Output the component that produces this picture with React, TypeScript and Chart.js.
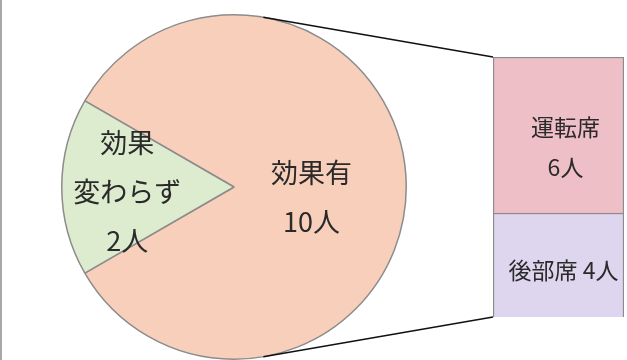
import React, { useEffect, useRef } from "react";
import { Chart, registerables } from "chart.js";

Chart.register(...registerables);

// ---- data ----
const pieCategories = ["効果有", "効果変わらず"];
const pieValues = [10, 2];
const pieLabelLines = [["効果有"], ["効果", "変わらず"]];
const barCategories = ["後部席", "運転席"];
const barValues = [4, 6];
const unit = "人";

// ---- styles ----
const W = 627;
const H = 360;
const pieColors = ["#F8CFBA", "#DDEBCE"];
const barColors = ["#DDD6EE", "#EFBFC8"];
const edgeColor = "#8C8C8C";
const textColor = "#2a2a2a";
const FONT = '"Noto Sans CJK JP", "Noto Sans", sans-serif';
const BAR_BOX = { left: 491, top: 55, width: 135, height: 264, pad: 2 };

const pieLabelPlugin = {
  id: "pieLabels",
  afterDatasetsDraw(chart: any) {
    const ctx = chart.ctx;
    const meta = chart.getDatasetMeta(0);
    const frac = [0.45, 0.62];
    const dy = [10, 5];
    ctx.save();
    ctx.fillStyle = textColor;
    ctx.font = `27px ${FONT}`;
    ctx.textAlign = "center";
    ctx.textBaseline = "middle";
    meta.data.forEach((el: any, i: number) => {
      const p = el.getProps(["x", "y", "startAngle", "endAngle", "outerRadius"], true);
      const mid = (p.startAngle + p.endAngle) / 2;
      const cx = p.x + Math.cos(mid) * p.outerRadius * frac[i];
      const cy = p.y + Math.sin(mid) * p.outerRadius * frac[i] + dy[i];
      const lines = [...pieLabelLines[i], `${pieValues[i]}${unit}`];
      const lh = 49;
      const y0 = cy - ((lines.length - 1) * lh) / 2;
      lines.forEach((t, k) => ctx.fillText(t, cx, y0 + k * lh));
    });
    // connector lines: tangent from bar corners to the circle
    const el = meta.data[0].getProps(["x", "y", "outerRadius"], true);
    const C = { x: el.x, y: el.y };
    const r = el.outerRadius;
    const bx = BAR_BOX.left + BAR_BOX.pad;
    const corners = [
      { x: bx, y: BAR_BOX.top + BAR_BOX.pad, sign: -1 },
      { x: bx, y: BAR_BOX.top + BAR_BOX.height - BAR_BOX.pad, sign: 1 },
    ];
    ctx.strokeStyle = "#111";
    ctx.lineWidth = 1.6;
    corners.forEach((P) => {
      const dx = P.x - C.x;
      const dyy = P.y - C.y;
      const d = Math.hypot(dx, dyy);
      const th = Math.atan2(dyy, dx);
      const a = Math.acos(r / d);
      const ang = th + P.sign * a;
      const tx = C.x + r * Math.cos(ang);
      const ty = C.y + r * Math.sin(ang);
      ctx.beginPath();
      ctx.moveTo(tx, ty);
      ctx.lineTo(P.x, P.y);
      ctx.stroke();
    });
    ctx.restore();
  },
};

const barLabelPlugin = {
  id: "barLabels",
  afterDatasetsDraw(chart: any) {
    const ctx = chart.ctx;
    ctx.save();
    ctx.fillStyle = textColor;
    ctx.font = `23px ${FONT}`;
    ctx.textAlign = "center";
    ctx.textBaseline = "middle";
    const offsets = [
      { dx: 5, dy: 5 },
      { dx: 7, dy: 12 },
    ];
    chart.data.datasets.forEach((_ds: any, i: number) => {
      const el = chart.getDatasetMeta(i).data[0];
      const p = el.getProps(["x", "y", "base"], true);
      const cx = p.x + offsets[i].dx;
      const cy = (p.y + p.base) / 2 + offsets[i].dy;
      const lines =
        i === 0
          ? [`${barCategories[i]} ${barValues[i]}${unit}`]
          : [barCategories[i], `${barValues[i]}${unit}`];
      const lh = 40;
      const y0 = cy - ((lines.length - 1) * lh) / 2;
      lines.forEach((t, k) => ctx.fillText(t, cx, y0 + k * lh));
    });
    ctx.restore();
  },
};

export default function App() {
  const pieRef = useRef<HTMLCanvasElement>(null);
  const barRef = useRef<HTMLCanvasElement>(null);

  useEffect(() => {
    const pie = new Chart(pieRef.current!, {
      type: "pie",
      data: {
        labels: pieCategories,
        datasets: [
          {
            data: pieValues,
            backgroundColor: pieColors,
            borderColor: edgeColor,
            borderWidth: 1.5,
          },
        ],
      },
      options: {
        responsive: false,
        animation: false,
        rotation: -60,
        layout: { padding: { left: 61, right: 220, top: 14, bottom: 0 } },
        plugins: { legend: { display: false }, tooltip: { enabled: false } },
      },
      plugins: [pieLabelPlugin],
    });
    const bar = new Chart(barRef.current!, {
      type: "bar",
      data: {
        labels: [""],
        datasets: barCategories.map((c, i) => ({
          label: c,
          data: [barValues[i]],
          backgroundColor: barColors[i],
          borderColor: edgeColor,
          borderWidth: 1.5,
          barPercentage: 1,
          categoryPercentage: 1,
        })),
      },
      options: {
        responsive: false,
        animation: false,
        layout: { padding: BAR_BOX.pad },
        scales: {
          x: { display: false, stacked: true },
          y: { display: false, stacked: true, min: 0, max: 10 },
        },
        plugins: { legend: { display: false }, tooltip: { enabled: false } },
      },
      plugins: [barLabelPlugin],
    });
    return () => {
      pie.destroy();
      bar.destroy();
    };
  }, []);

  return (
    <div
      style={{
        position: "absolute",
        left: 0,
        top: 0,
        width: W,
        height: H,
        background: "#fff",
        overflow: "hidden",
      }}
    >
      <div
        style={{
          position: "absolute",
          left: 0,
          top: 0,
          width: 2,
          height: H,
          background: "#a8a8a8",
        }}
      />
      <canvas
        ref={pieRef}
        width={W}
        height={H}
        style={{ position: "absolute", left: 0, top: 0 }}
      />
      <canvas
        ref={barRef}
        width={BAR_BOX.width}
        height={BAR_BOX.height}
        style={{ position: "absolute", left: BAR_BOX.left, top: BAR_BOX.top }}
      />
    </div>
  );
}
